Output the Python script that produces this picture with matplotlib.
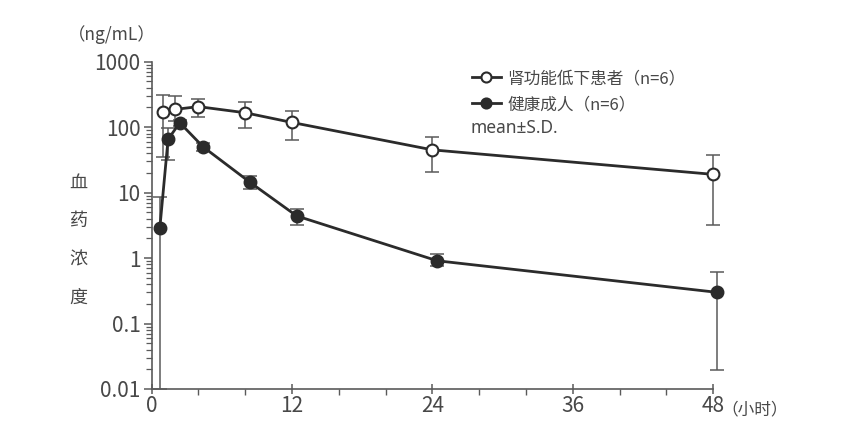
import numpy as np
import matplotlib
matplotlib.use('Agg')
import matplotlib.pyplot as plt
from matplotlib.ticker import FixedLocator, LogLocator, NullFormatter

plt.rcParams['font.family'] = ['Noto Sans CJK SC', 'DejaVu Sans']

# 肾功能低下患者 (open circles)
renal_t = [1, 2, 4, 8, 12, 24, 48]
renal_mean = [169, 187, 206, 166, 118, 45, 19]
renal_hi = [313, 302, 272, 239, 177, 72, 37]
renal_lo = [35, 125, 143, 97, 64, 21, 3.2]

# 健康成人 (filled circles)
healthy_t = [0.7, 1.4, 2.4, 4.4, 8.4, 12.4, 24.4, 48.3]
healthy_mean = [2.9, 65, 117, 50, 14.4, 4.4, 0.91, 0.30]
healthy_hi = [8.6, 98, 130, 58, 18.1, 5.6, 1.15, 0.61]
healthy_lo = [0.01, 31.6, 105, 43, 11.4, 3.24, 0.76, 0.0197]

x_ticks = [0, 12, 24, 36, 48]
y_ticks = [0.01, 0.1, 1, 10, 100, 1000]
y_labels = ['0.01', '0.1', '1', '10', '100', '1000']

line_c = '#2b2b2b'
err_c = '#5a5a5a'
text_c = '#484848'


def main():
    fig = plt.figure(figsize=(8.44, 4.44), dpi=100)
    ax = fig.add_axes([0.1797, 0.1239, 0.6654, 0.7371])

    for t, m, hi, lo, face, lab in [
            (renal_t, renal_mean, renal_hi, renal_lo, 'white', '肾功能低下患者（n=6）'),
            (healthy_t, healthy_mean, healthy_hi, healthy_lo, line_c, '健康成人（n=6）')]:
        m = np.array(m)
        yerr = [m - np.array(lo), np.array(hi) - m]
        ax.errorbar(t, m, yerr=yerr, fmt='none', ecolor=err_c, elinewidth=1.1,
                    capsize=5, capthick=1.1, zorder=2, clip_on=False)
        ax.plot(t, m, '-o', color=line_c, lw=2, ms=8.5, mfc=face, mec=line_c,
                mew=1.5, zorder=3, clip_on=False, label=lab)

    ax.set_yscale('log')
    ax.set_ylim(0.01, 1000)
    ax.set_xlim(0, 48)

    ax.yaxis.set_major_locator(FixedLocator(y_ticks))
    ax.set_yticklabels(y_labels)
    ax.yaxis.set_minor_locator(LogLocator(base=10, subs=np.arange(2, 10)))
    ax.yaxis.set_minor_formatter(NullFormatter())
    ax.set_xticks(x_ticks)
    ax.set_xticklabels(['0', '12', '24', '36', '48'])
    ax.set_xticks(np.arange(0, 49, 4), minor=True)

    for s in ['top', 'right']:
        ax.spines[s].set_visible(False)
    for s in ['left', 'bottom']:
        ax.spines[s].set_color(err_c)
        ax.spines[s].set_linewidth(1.2)

    ax.tick_params(axis='y', which='major', length=6, width=1.1, color=err_c,
                   labelsize=15, labelcolor=text_c, pad=2)
    ax.tick_params(axis='y', which='minor', length=4, width=0.9, color=err_c)
    ax.tick_params(axis='x', which='major', length=7, width=1.1, color=err_c,
                   direction='inout', labelsize=15, labelcolor=text_c, pad=1)
    ax.tick_params(axis='x', which='minor', length=4, width=1.0, color=err_c)

    # axis texts
    fig.text(0.080, 0.922, '（ng/mL）', fontsize=12.5, color=text_c, ha='left', va='center')
    for i, ch in enumerate('血药浓度'):
        fig.text(0.093, 0.588 - i * 0.086, ch, fontsize=13, color=text_c,
                 ha='center', va='center')
    fig.text(0.855, 0.076, '（小时）', fontsize=12, color=text_c, ha='left', va='center')

    leg = ax.legend(loc='upper left', bbox_to_anchor=(0.553, 1.005), frameon=False,
                    fontsize=12, handlelength=1.7, handletextpad=0.4,
                    borderaxespad=0.2, labelspacing=0.55, markerscale=0.85)
    for txt in leg.get_texts():
        txt.set_color(text_c)
    fig.text(0.557, 0.711, 'mean±S.D.', fontsize=12.5, color=text_c, ha='left',
             va='center', family='Noto Sans')

    fig.savefig('out.png', dpi=100)


if __name__ == '__main__':
    main()
